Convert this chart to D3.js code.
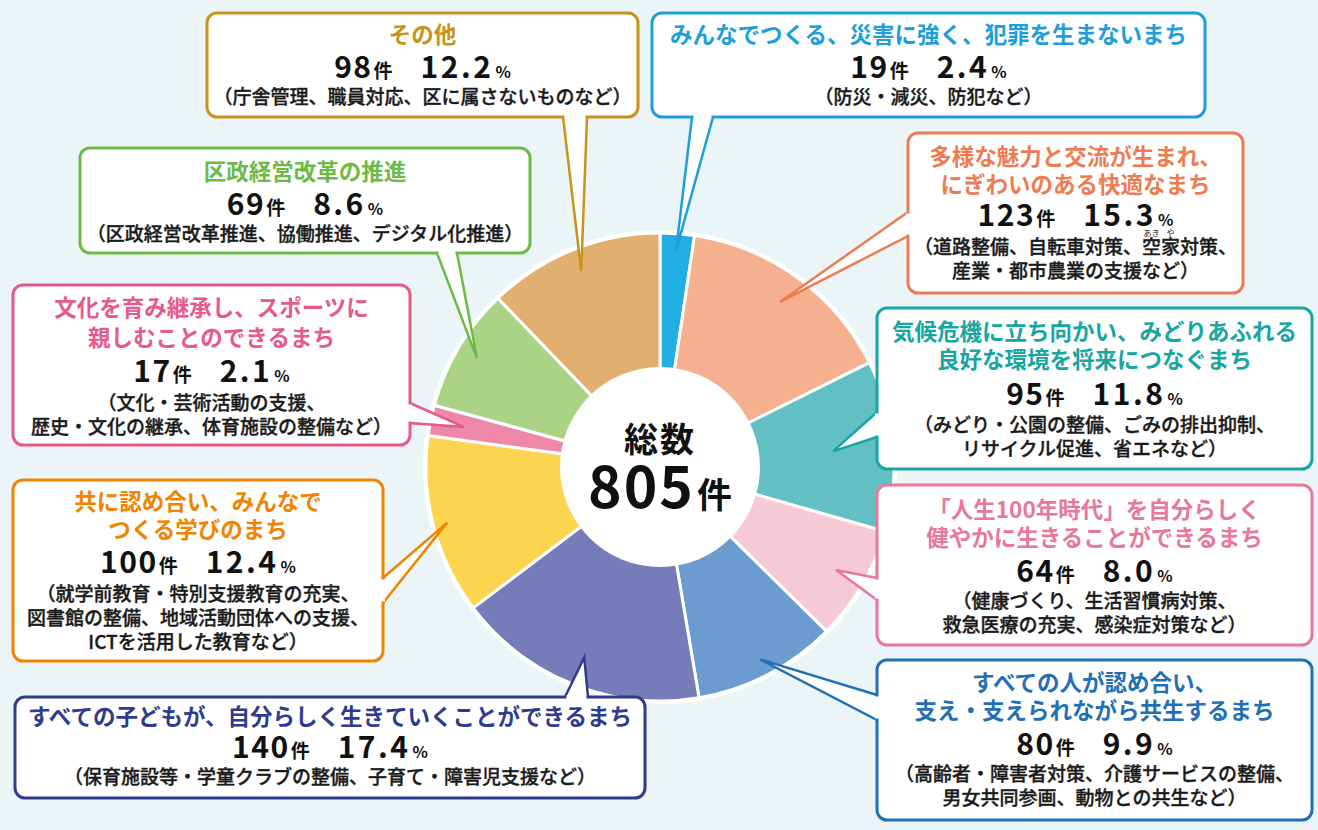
<!DOCTYPE html>
<html>
<head>
<meta charset="utf-8">
<script src="https://cdn.jsdelivr.net/npm/d3@7"></script>
<style>
  html, body { margin: 0; padding: 0; background: #ebf5f7; }
  svg { display: block; font-family: "Noto Sans CJK JP", "Noto Sans", sans-serif; }
</style>
</head>
<body>
<div id="chart"></div>
<script>
// --- data (clockwise from 12 o'clock) ---
const titles = [
  ['みんなでつくる、災害に強く、犯罪を生まないまち'],
  ['多様な魅力と交流が生まれ、', 'にぎわいのある快適なまち'],
  ['気候危機に立ち向かい、みどりあふれる', '良好な環境を将来につなぐまち'],
  ['「人生100年時代」を自分らしく', '健やかに生きることができるまち'],
  ['すべての人が認め合い、', '支え・支えられながら共生するまち'],
  ['すべての子どもが、自分らしく生きていくことができるまち'],
  ['共に認め合い、みんなで', 'つくる学びのまち'],
  ['文化を育み継承し、スポーツに', '親しむことのできるまち'],
  ['区政経営改革の推進'],
  ['その他']
];
const counts = [19, 123, 95, 64, 80, 140, 100, 17, 69, 98];
const percents = ['2.4', '15.3', '11.8', '8.0', '9.9', '17.4', '12.4', '2.1', '8.6', '12.2'];
const details = [
  ['（防災・減災、防犯など）'],
  ['（道路整備、自転車対策、空家対策、', '産業・都市農業の支援など）'],
  ['（みどり・公園の整備、ごみの排出抑制、', 'リサイクル促進、省エネなど）'],
  ['（健康づくり、生活習慣病対策、', '救急医療の充実、感染症対策など）'],
  ['（高齢者・障害者対策、介護サービスの整備、', '男女共同参画、動物との共生など）'],
  ['（保育施設等・学童クラブの整備、子育て・障害児支援など）'],
  ['（就学前教育・特別支援教育の充実、', '図書館の整備、地域活動団体への支援、', 'ICTを活用した教育など）'],
  ['（文化・芸術活動の支援、', '歴史・文化の継承、体育施設の整備など）'],
  ['（区政経営改革推進、協働推進、デジタル化推進）'],
  ['（庁舎管理、職員対応、区に属さないものなど）']
];
const rubies = [
  { item: 1, line: 0, ch: 12, text: 'あき' },
  { item: 1, line: 0, ch: 13, text: 'や' }
];
const sliceColors = ['#22ade3', '#f4b08f', '#62c0c5', '#f6c9d6', '#6c9bd0',
                     '#767bb9', '#fdd44f', '#ee88a8', '#abd386', '#e1b06e'];
const accentColors = ['#1e9edb', '#ee7c53', '#17a6a1', '#e8779c', '#1f70b6',
                      '#2e3b8f', '#f08300', '#e65a8b', '#6dba45', '#c7931e'];
const centerLabel = '総数';

// --- layout ---
const W = 1318, H = 830;
const cx = 660, cy = 467, R = 234, r0 = 100;

const boxes = [
  { x: 652, y: 13,  w: 553, h: 104, side: 'bottom', a: 692, b: 713, tipR: 217, ty: 43,  ny: 78,  sy: 104 },
  { x: 908, y: 133, w: 335, h: 160, side: 'left',   a: 212, b: 236, tipR: 204, ty: 165, ny: 226, sy: 254 },
  { x: 877, y: 308, w: 435, h: 161, side: 'left',   a: 412, b: 437, tipR: 174, ty: 340, ny: 405, sy: 432 },
  { x: 877, y: 485, w: 435, h: 160, side: 'left',   a: 578, b: 600, tipR: 204, ty: 518, ny: 582, sy: 608 },
  { x: 877, y: 660, w: 435, h: 160, side: 'left',   a: 695, b: 720, tipR: 217, ty: 691, ny: 755, sy: 781 },
  { x: 15,  y: 697, w: 630, h: 101, side: 'top',    a: 565, b: 588, tipR: 205, ty: 725, ny: 758, sy: 784 },
  { x: 13,  y: 480, w: 370, h: 181, side: 'right',  a: 578, b: 603, tipR: 220, ty: 510, ny: 573, sy: 601 },
  { x: 13,  y: 285, w: 397, h: 160, side: 'right',  a: 403, b: 423, tipR: 200, ty: 316, ny: 382, sy: 410, tlh: 30 },
  { x: 80,  y: 148, w: 450, h: 105, side: 'bottom', a: 437, b: 457, tipR: 213, ty: 180, ny: 215, sy: 241 },
  { x: 207, y: 13,  w: 431, h: 104, side: 'bottom', a: 563, b: 587, tipR: 211, ty: 43,  ny: 78,  sy: 104 }
];

const svg = d3.select('#chart').append('svg')
  .attr('width', W).attr('height', H);

svg.append('rect').attr('width', W).attr('height', H).attr('fill', '#ebf5f7');

// pie
const pie = d3.pie().sort(null).value(d => d);
const arcs = pie(counts);
const arc = d3.arc().innerRadius(0).outerRadius(R);

const g = svg.append('g').attr('transform', `translate(${cx},${cy})`);
g.append('circle').attr('r', R + 3).attr('fill', '#fff');
g.selectAll('.slice')
  .data(arcs)
  .join('path')
  .attr('class', 'slice')
  .attr('d', arc)
  .attr('fill', (d, i) => sliceColors[i])
  .attr('stroke', '#fff')
  .attr('stroke-width', 3)
  .attr('stroke-linejoin', 'round');
g.append('circle').attr('r', r0).attr('fill', '#fff');

g.append('text')
  .attr('y', -15).attr('text-anchor', 'middle')
  .attr('font-size', 34).attr('font-weight', 700).attr('fill', '#111')
  .attr('letter-spacing', 2)
  .text(centerLabel);
const tot = g.append('text')
  .attr('y', 41).attr('text-anchor', 'middle')
  .attr('font-weight', 700).attr('fill', '#111');
tot.append('tspan').attr('font-size', 57).attr('letter-spacing', 2).text(d3.sum(counts));
tot.append('tspan').attr('font-size', 35).attr('dx', 2).text('件');

// callout boxes
function tipPoint(d, r) {
  const m = (d.startAngle + d.endAngle) / 2;
  return [cx + r * Math.sin(m), cy - r * Math.cos(m)];
}

function basePoints(b) {
  if (b.side === 'bottom') return [[b.a, b.y + b.h], [b.b, b.y + b.h]];
  if (b.side === 'top') return [[b.a, b.y], [b.b, b.y]];
  if (b.side === 'left') return [[b.x, b.a], [b.x, b.b]];
  return [[b.x + b.w, b.a], [b.x + b.w, b.b]];
}

boxes.forEach((b, i) => {
  const col = accentColors[i];
  const grp = svg.append('g');
  const tip = tipPoint(arcs[i], b.tipR);
  const [p1, p2] = basePoints(b);

  grp.append('path')
    .attr('d', d3.line()([p1, tip, p2]) + 'Z')
    .attr('fill', '#fff')
    .attr('stroke', col)
    .attr('stroke-width', 2.5)
    .attr('stroke-linejoin', 'miter');

  grp.append('rect')
    .attr('x', b.x).attr('y', b.y).attr('width', b.w).attr('height', b.h)
    .attr('rx', 10).attr('ry', 10)
    .attr('fill', '#fff').attr('stroke', col).attr('stroke-width', 3);

  // open the border where the tail joins
  const horiz = b.side === 'bottom' || b.side === 'top';
  const e1 = horiz ? [p1[0] + 1.5, p1[1]] : [p1[0], p1[1] + 1.5];
  const e2 = horiz ? [p2[0] - 1.5, p2[1]] : [p2[0], p2[1] - 1.5];
  grp.append('path')
    .attr('d', d3.line()([e1, e2]))
    .attr('stroke', '#fff').attr('stroke-width', 4);

  const mx = b.x + b.w / 2;
  const tlh = b.tlh || 28;

  titles[i].forEach((line, k) => {
    grp.append('text')
      .attr('x', mx).attr('y', b.ty + k * tlh)
      .attr('text-anchor', 'middle')
      .attr('font-size', 22.5).attr('font-weight', 700)
      .attr('fill', col)
      .text(line);
  });

  const num = grp.append('text')
    .attr('x', mx).attr('y', b.ny)
    .attr('text-anchor', 'middle')
    .attr('font-weight', 700).attr('fill', '#111');
  num.append('tspan').attr('font-size', 30).attr('letter-spacing', 1.5).text(counts[i]);
  num.append('tspan').attr('font-size', 19).attr('dx', 1).text('件');
  num.append('tspan').attr('font-size', 30).attr('dx', 28).attr('letter-spacing', 2.5).text(percents[i]);
  num.append('tspan').attr('font-size', 16).attr('dx', 2).text('%');

  details[i].forEach((line, k) => {
    const t = grp.append('text')
      .attr('x', mx).attr('y', b.sy + k * 24)
      .attr('text-anchor', 'middle')
      .attr('font-size', 19).attr('font-weight', 500)
      .attr('fill', '#1a1a1a')
      .attr('stroke', '#1a1a1a').attr('stroke-width', 0.35)
      .text(line);
    rubies.filter(r => r.item === i && r.line === k).forEach(r => {
      const node = t.node();
      const s = node.getStartPositionOfChar(r.ch);
      const e = node.getEndPositionOfChar(r.ch);
      grp.append('text')
        .attr('x', (s.x + e.x) / 2).attr('y', b.sy + k * 24 - 18)
        .attr('text-anchor', 'middle')
        .attr('font-size', 8).attr('fill', '#1a1a1a')
        .text(r.text);
    });
  });
});
</script>
</body>
</html>
